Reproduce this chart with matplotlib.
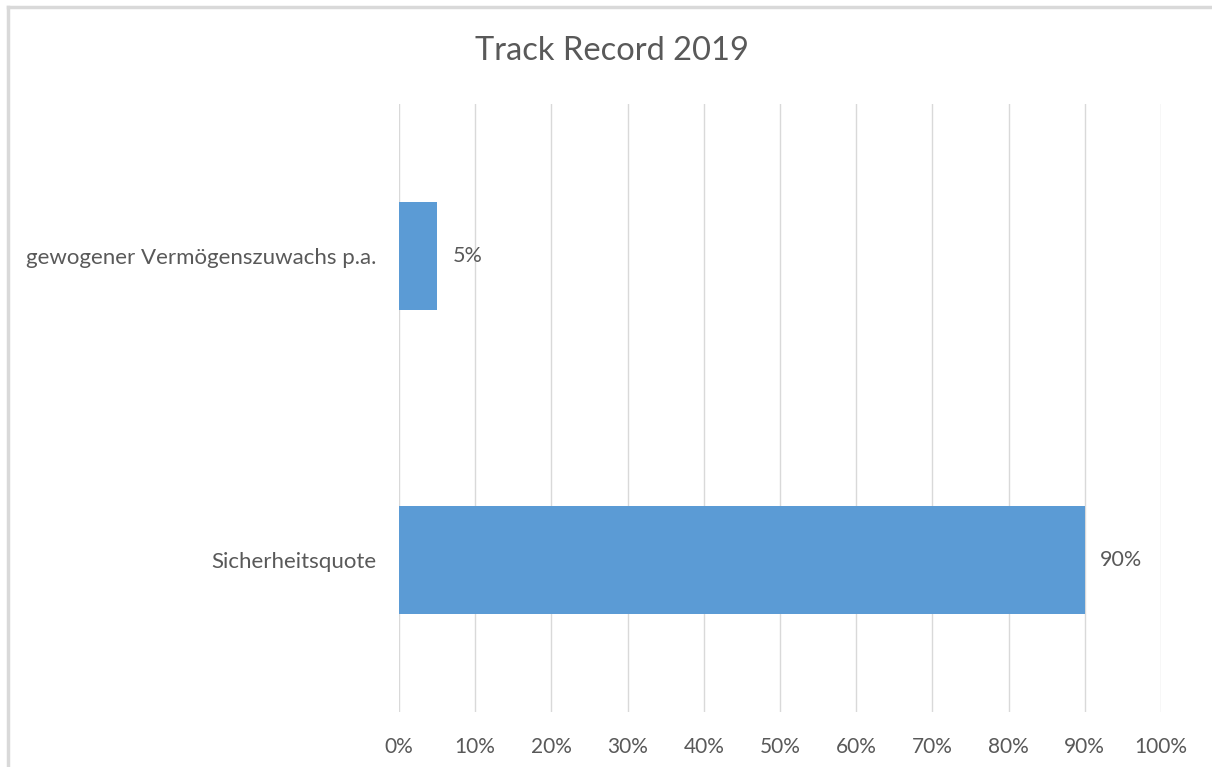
import matplotlib
matplotlib.use("Agg")
import matplotlib.pyplot as plt
from matplotlib.lines import Line2D
from matplotlib.ticker import FuncFormatter

# data
categories = ["Sicherheitsquote", "gewogener Vermögenszuwachs p.a."]
values = [90, 5]
xticks = list(range(0, 101, 10))

plt.rcParams['font.family'] = ['Lato', 'DejaVu Sans']

fig = plt.figure(figsize=(12.12, 7.67), dpi=100)
ax = fig.add_axes([399 / 1212, 1 - 712 / 767, 762 / 1212, 608 / 767])

# outer chart border (Excel style, only top and left edge visible)
bx, by = 8 / 1212, 1 - 7 / 767
fig.lines.append(Line2D([bx, 1.02], [by, by], transform=fig.transFigure,
                        color="#D9D9D9", linewidth=2.5))
fig.lines.append(Line2D([bx, bx], [-0.02, by], transform=fig.transFigure,
                        color="#D9D9D9", linewidth=2.5))

bars = ax.barh(range(len(categories)), values, height=0.355, color="#5B9BD5")
for i, v in enumerate(values):
    ax.text(v + 2, i, f"{v}%", va="center", ha="left", fontsize=15.5, color="#595959")

ax.set_xlim(0, 100)
ax.set_ylim(-0.5, 1.5)
ax.set_xticks(xticks)
ax.xaxis.set_major_formatter(FuncFormatter(lambda x, p: f"{int(x)}%"))
ax.set_yticks(range(len(categories)))
ax.set_yticklabels(categories)
ax.tick_params(axis="both", length=0, labelcolor="#595959")
ax.tick_params(axis="x", pad=18, labelsize=15)
ax.tick_params(axis="y", pad=16.5, labelsize=16)
ax.grid(axis="x", color="#D9D9D9", linewidth=1)
ax.set_axisbelow(True)
for s in ax.spines.values():
    s.set_visible(False)

fig.text(612 / 1212, 1 - 51 / 767, "Track Record 2019", ha="center", va="center",
         fontsize=23.5, color="#595959")

fig.savefig("out.png", dpi=100)
